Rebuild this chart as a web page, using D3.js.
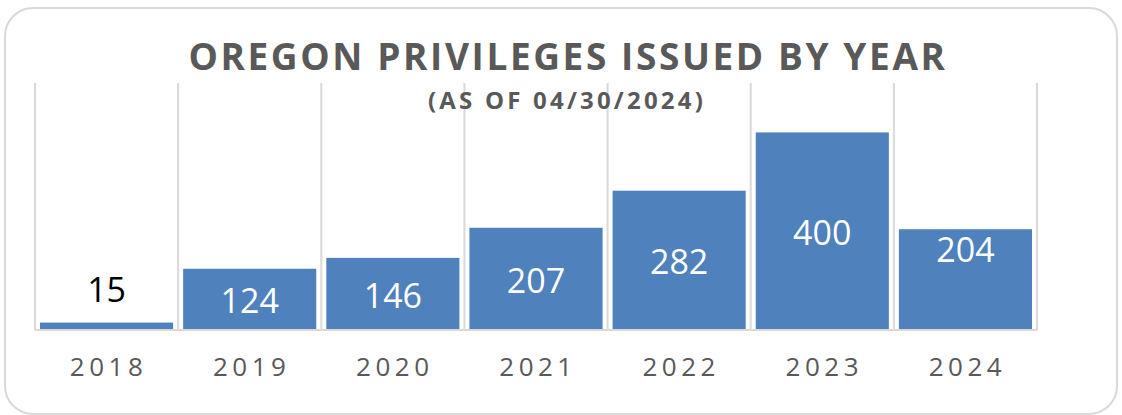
<!DOCTYPE html>
<html>
<head>
<meta charset="utf-8">
<script src="https://cdn.jsdelivr.net/npm/d3@7"></script>
<style>
  body { margin: 0; background: #fff; }
  svg { display: block; }
</style>
</head>
<body>
<svg width="1122" height="415"></svg>
<script>
var YEARS = ['2018', '2019', '2020', '2021', '2022', '2023', '2024'];
var ISSUED = [15, 124, 146, 207, 282, 400, 204];
var LABEL_SPOT = ['outside', 'center', 'center', 'center', 'center', 'center', 'top']; // where excel put each data label
var Y_MAX = 500;

var svg = d3.select('svg'),
    width = +svg.attr('width'),
    height = +svg.attr('height');

var plot = { left: 35, right: 1037, top: 83, bottom: 330 };

// outer rounded frame
svg.append('rect')
  .attr('x', 5).attr('y', 8)
  .attr('width', width - 10).attr('height', height - 9)
  .attr('rx', 28).attr('ry', 28)
  .attr('fill', '#fff')
  .attr('stroke', '#d9d9d9')
  .attr('stroke-width', 2);

var x = d3.scaleBand()
  .domain(YEARS)
  .range([plot.left, plot.right])
  .paddingInner(0.07)
  .paddingOuter(0.035);

var y = d3.scaleLinear()
  .domain([0, Y_MAX])
  .range([plot.bottom, plot.top]);

// vertical gridlines at the category edges
var step = x.step();
var edges = YEARS.map(function(d) { return x(d) - x.paddingOuter() * step; });
edges.push(plot.right);

svg.append('g')
  .attr('class', 'grid')
  .selectAll('line')
  .data(edges)
  .enter().append('line')
  .attr('x1', function(d) { return d; })
  .attr('x2', function(d) { return d; })
  .attr('y1', plot.top)
  .attr('y2', plot.bottom)
  .attr('stroke', '#d9d9d9')
  .attr('stroke-width', 2);

// title
svg.append('text')
  .attr('x', 568).attr('y', 70)
  .attr('text-anchor', 'middle')
  .attr('font-family', 'Open Sans')
  .attr('font-weight', 'bold')
  .attr('font-size', 37)
  .attr('letter-spacing', 2.6)
  .attr('fill', '#595959')
  .text('OREGON PRIVILEGES ISSUED BY YEAR');

svg.append('text')
  .attr('x', 567).attr('y', 109)
  .attr('text-anchor', 'middle')
  .attr('font-family', 'Open Sans')
  .attr('font-weight', 'bold')
  .attr('font-size', 24)
  .attr('letter-spacing', 3.2)
  .attr('fill', '#595959')
  .text('(AS OF 04/30/2024)');

// bars
svg.append('g')
  .attr('class', 'bars')
  .selectAll('rect')
  .data(ISSUED)
  .enter().append('rect')
  .attr('x', function(d, i) { return x(YEARS[i]); })
  .attr('y', function(d) { return y(d); })
  .attr('width', x.bandwidth())
  .attr('height', function(d) { return y(0) - y(d); })
  .attr('fill', '#4f81bd');

// baseline axis
var xAxis = d3.axisBottom(x).tickSize(0).tickPadding(28);
var ax = svg.append('g')
  .attr('transform', 'translate(0,' + plot.bottom + ')')
  .call(xAxis);
ax.select('.domain')
  .attr('d', 'M' + plot.left + ',0H' + plot.right)
  .attr('stroke', '#d9d9d9')
  .attr('stroke-width', 2);
ax.selectAll('text')
  .attr('font-family', 'Open Sans')
  .attr('font-size', 26)
  .attr('letter-spacing', 4.5)
  .attr('fill', '#595959')
  .attr('dx', 2);

// value labels
svg.append('g')
  .attr('class', 'labels')
  .selectAll('text')
  .data(ISSUED)
  .enter().append('text')
  .attr('x', function(d, i) { return x(YEARS[i]) + x.bandwidth() / 2; })
  .attr('y', function(d, i) {
    if (LABEL_SPOT[i] == 'outside') return y(d) - 21;
    if (LABEL_SPOT[i] == 'top') return y(d) + 33;
    return (y(d) + y(0)) / 2 + 14;
  })
  .attr('text-anchor', 'middle')
  .attr('font-family', 'Open Sans')
  .attr('font-size', 34)
  .attr('fill', function(d, i) { return LABEL_SPOT[i] == 'outside' ? '#000' : '#fff'; })
  .text(function(d) { return d; });
</script>
</body>
</html>
